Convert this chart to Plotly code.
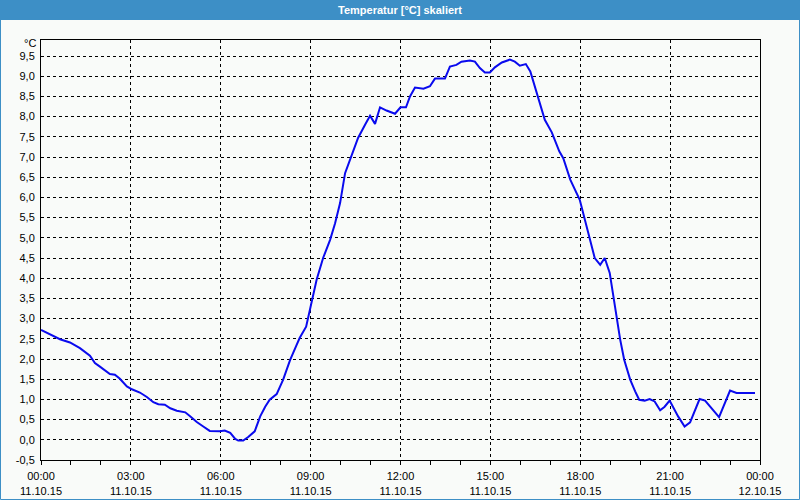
import plotly.graph_objects as go

times = ["00:00","00:18","00:38","00:58","01:18","01:38","01:48","01:58","02:18","02:28","02:38","02:52",
         "03:02","03:18","03:32","03:45","03:55","04:08","04:19","04:32","04:49","04:58","05:12","05:25",
         "05:38","05:58","06:08","06:19","06:29","06:35","06:45","06:55","07:08","07:19","07:29","07:38",
         "07:52","08:05","08:19","08:32","08:38","08:51","09:02","09:12","09:25","09:39","09:49","09:59",
         "10:09","10:22","10:35","10:49","10:59","11:09","11:19","11:32","11:49","12:00","12:11","12:19",
         "12:29","12:46","12:59","13:09","13:29","13:39","13:52","14:02","14:19","14:29","14:39","14:49",
         "14:59","15:09","15:23","15:39","15:49","15:59","16:11","16:20","16:29","16:40","16:49","17:03",
         "17:18","17:26","17:40","17:59","18:13","18:19","18:29","18:40","18:49","18:59","19:06","19:13",
         "19:20","19:28","19:40","19:50","19:58","20:09","20:19","20:29","20:40","20:49","20:59","21:16",
         "21:29","21:40","21:59","22:10","22:20","22:38","23:00","23:13","23:50"]
temps = [2.72,2.62,2.49,2.41,2.27,2.08,1.90,1.81,1.63,1.61,1.51,1.32,
         1.25,1.17,1.06,0.93,0.88,0.87,0.78,0.72,0.68,0.59,0.44,0.33,
         0.22,0.21,0.23,0.17,0.02,-0.02,-0.02,0.07,0.21,0.58,0.82,0.99,
         1.13,1.49,1.98,2.35,2.52,2.80,3.38,3.96,4.50,4.95,5.36,5.86,
         6.60,7.05,7.47,7.80,8.02,7.82,8.23,8.15,8.07,8.23,8.23,8.50,
         8.72,8.69,8.75,8.94,8.94,9.24,9.28,9.36,9.39,9.36,9.20,9.09,
         9.09,9.22,9.34,9.41,9.36,9.26,9.30,9.12,8.75,8.33,7.92,7.61,
         7.14,6.97,6.44,5.94,5.28,4.95,4.50,4.33,4.50,4.13,3.55,2.97,
         2.48,1.98,1.49,1.20,0.99,0.97,1.01,0.95,0.73,0.82,0.97,0.58,
         0.33,0.43,1.01,0.97,0.82,0.56,1.22,1.16,1.16]

x_tickvals = ["2015-10-11 00:00","2015-10-11 03:00","2015-10-11 06:00","2015-10-11 09:00",
              "2015-10-11 12:00","2015-10-11 15:00","2015-10-11 18:00","2015-10-11 21:00",
              "2015-10-12 00:00"]
x_ticktext = ["00:00<br>11.10.15","03:00<br>11.10.15","06:00<br>11.10.15","09:00<br>11.10.15",
              "12:00<br>11.10.15","15:00<br>11.10.15","18:00<br>11.10.15","21:00<br>11.10.15",
              "00:00<br>12.10.15"]
y_tickvals = [-0.5,0.0,0.5,1.0,1.5,2.0,2.5,3.0,3.5,4.0,4.5,5.0,5.5,6.0,6.5,7.0,7.5,8.0,8.5,9.0,9.5]
y_ticktext = ["-0,5","0,0","0,5","1,0","1,5","2,0","2,5","3,0","3,5","4,0","4,5","5,0",
              "5,5","6,0","6,5","7,0","7,5","8,0","8,5","9,0","9,5"]

title = "Temperatur [°C] skaliert"
unit = "°C"

W, H = 800, 500
L, R, T, B = 41, 40, 40, 40
pw, ph = W - L - R, H - T - B
def px(x): return (x - L) / pw
def py(y): return (H - B - y) / ph

blue = "#3d8fc6"
bg = "#f9fbf9"
font = "Liberation Sans"

fig = go.Figure()
fig.add_trace(go.Scatter(
    x=["2015-10-11 " + t for t in times], y=temps, mode="lines",
    line=dict(color="#0a0aee", width=2), hoverinfo="skip", showlegend=False))

fig.update_layout(
    width=W, height=H, autosize=False,
    margin=dict(l=L, r=R, t=T, b=B, autoexpand=False),
    paper_bgcolor=bg, plot_bgcolor=bg,
    font=dict(family=font, size=11, color="black"),
    showlegend=False,
    xaxis=dict(
        type="date", range=["2015-10-11 00:00", "2015-10-12 00:00"],
        tickmode="array", tickvals=x_tickvals, ticktext=x_ticktext,
        ticks="outside", ticklen=4, tickcolor="black",
        minor=dict(dtick=3600000, ticks="outside", ticklen=4, tickcolor="black", showgrid=False),
        showgrid=True, gridcolor="black", gridwidth=1, griddash="3px,3px",
        showline=True, linecolor="black", linewidth=1, mirror=True,
        zeroline=False, tickfont=dict(family=font, size=11, color="black"),
        automargin=False, fixedrange=True, ticklabelstandoff=2,
    ),
    yaxis=dict(
        range=[-0.5, 9.896],
        tickmode="array", tickvals=y_tickvals, ticktext=y_ticktext,
        ticks="", ticklabelstandoff=3,
        showgrid=True, gridcolor="black", gridwidth=1, griddash="3px,3px",
        showline=True, linecolor="black", linewidth=1, mirror=True,
        zeroline=False, tickfont=dict(family=font, size=11, color="black"),
        automargin=False, fixedrange=True,
    ),
    shapes=[
        dict(type="rect", xref="paper", yref="paper", x0=px(0), x1=px(W), y0=py(20), y1=py(0),
             fillcolor=blue, line=dict(width=0), layer="below"),
        dict(type="rect", xref="paper", yref="paper", x0=px(0.5), x1=px(W - 0.5), y0=py(H - 0.5), y1=py(0.5),
             fillcolor="rgba(0,0,0,0)", line=dict(color=blue, width=1), layer="above"),
    ],
    annotations=[
        dict(text="<b>" + title + "</b>", xref="paper", yref="paper", x=px(W / 2), y=py(10),
             xanchor="center", yanchor="middle", showarrow=False,
             font=dict(family=font, size=11, color="white")),
        dict(text=unit, xref="paper", yref="paper", x=px(38), y=py(43),
             xanchor="right", yanchor="middle", showarrow=False,
             font=dict(family=font, size=11, color="black")),
    ],
)

fig.write_html("out.html")
